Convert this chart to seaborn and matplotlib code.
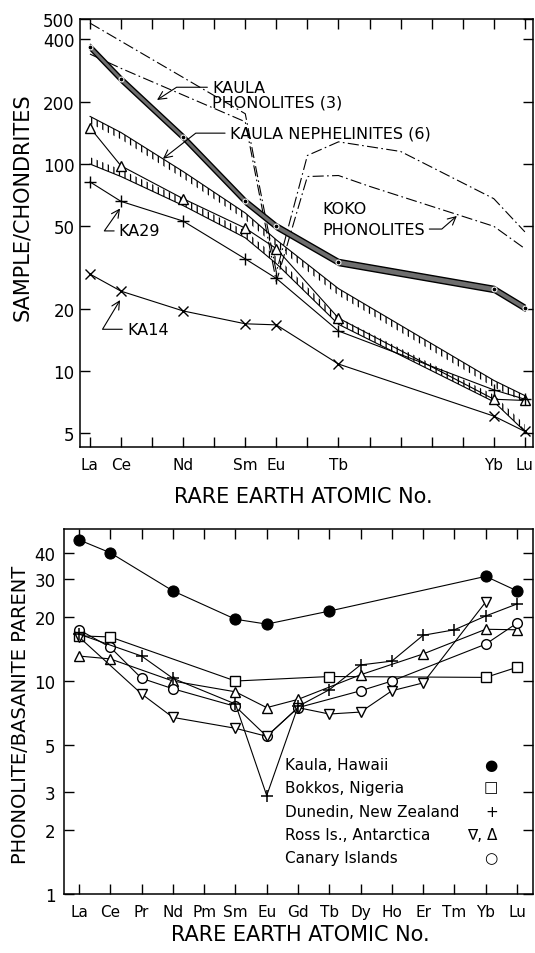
import seaborn as sns
import matplotlib.pyplot as plt
from matplotlib.ticker import FixedLocator, NullLocator, FixedFormatter

sns.set_theme(style="ticks")
plt.rcParams["font.family"] = ["DejaVu Sans"]
plt.rcParams["hatch.linewidth"] = 0.9
plt.rcParams["text.color"] = "black"
plt.rcParams["axes.labelcolor"] = "black"
plt.rcParams["xtick.color"] = "black"
plt.rcParams["ytick.color"] = "black"

# =========================
# TOP PANEL DATA (sample / chondrites)
# =========================
ree_top = ["La", "Ce", "Nd", "Sm", "Eu", "Tb", "Yb", "Lu"]
z_top = [57, 58, 60, 62, 63, 65, 70, 71]

kaula_phon = [368, 257, 135, 66, 50, 33.6, 24.9, 20.2]
neph_upper = [170, 142, 92, 58, 43, 25, 9.0, 7.6]
neph_lower = [100, 87, 63, 44, 33, 16.8, 7.1, 5.1]
ka29 = [82, 66, 53, 34.8, 28, 15.6, 8.1, 7.3]
tri_top = [150, 98, 68, 49, 39, 18, 7.3, 7.2]
ka14 = [29.4, 24.3, 19.5, 16.9, 16.7, 10.8, 6.05, 5.1]

koko_hi_z = [57, 62, 63, 64, 65, 67, 70, 71]
koko_hi = [480, 175, 30, 110, 128, 115, 68, 47]
koko_lo_z = [57, 58, 62, 63, 64, 65, 66, 70, 71]
koko_lo = [340, 290, 160, 27, 87, 88, 78, 50, 39]

top_yticks = [5, 10, 20, 50, 100, 200, 400, 500]

# =========================
# BOTTOM PANEL DATA (phonolite / basanite parent)
# =========================
ree_all = ["La", "Ce", "Pr", "Nd", "Pm", "Sm", "Eu", "Gd",
           "Tb", "Dy", "Ho", "Er", "Tm", "Yb", "Lu"]
z_all = list(range(57, 72))

kaula_z = [57, 58, 60, 62, 63, 65, 70, 71]
kaula = [46, 40, 26.5, 19.5, 18.5, 21.3, 31, 26.5]

bokkos_z = [57, 58, 62, 65, 70, 71]
bokkos = [16.3, 16.1, 10.0, 10.5, 10.4, 11.6]

dunedin_z = [57, 59, 60, 62, 63, 64, 65, 66, 67, 68, 69, 70, 71]
dunedin = [16.6, 13.1, 10.3, 7.8, 2.9, 7.6, 9.1, 11.9, 12.4, 16.4, 17.4, 20.2, 23]

ross_dn_z = [57, 59, 60, 62, 63, 64, 65, 66, 67, 68, 70]
ross_dn = [16.1, 8.7, 6.75, 6.0, 5.5, 7.5, 7.0, 7.15, 9.0, 9.8, 23.5]

ross_up_z = [57, 58, 60, 62, 63, 64, 66, 68, 70, 71]
ross_up = [13.1, 12.7, 10.0, 8.9, 7.5, 8.2, 10.7, 13.4, 17.5, 17.4]

canary_z = [57, 58, 59, 60, 62, 63, 64, 66, 67, 70, 71]
canary = [17.4, 14.4, 10.3, 9.2, 7.6, 5.5, 7.5, 9.0, 10.0, 14.9, 18.7]

bot_yticks = [1, 2, 3, 5, 10, 20, 30, 40]

legend_names = ["Kaula, Hawaii", "Bokkos, Nigeria", "Dunedin, New Zealand",
                "Ross Is., Antarctica", "Canary Islands"]
legend_syms = ["\u25cf", "\u25a1", "+", "\u2207, \u0394", "\u25cb"]

# =========================
# FIGURE
# =========================
fig = plt.figure(figsize=(5.35, 9.54), dpi=100)
fig.patch.set_facecolor("white")
ax1 = fig.add_axes([0.1495, 0.5304, 0.8467, 0.4486])
ax2 = fig.add_axes([0.1196, 0.0618, 0.8766, 0.3826])


def style_axis(ax, yticks, xticks_major, xlabels, xminor):
    ax.set_yscale("log")
    ax.yaxis.set_major_locator(FixedLocator(yticks))
    ax.yaxis.set_major_formatter(FixedFormatter([str(t) for t in yticks]))
    ax.yaxis.set_minor_locator(NullLocator())
    ax.xaxis.set_major_locator(FixedLocator(xticks_major))
    ax.xaxis.set_major_formatter(FixedFormatter(xlabels))
    ax.xaxis.set_minor_locator(FixedLocator(xminor))
    ax.tick_params(which="both", direction="in", top=True, right=True,
                   color="black", width=1.0)
    ax.tick_params(axis="x", which="both", length=7, pad=7, labelsize=11)
    ax.tick_params(axis="y", which="major", length=7, pad=4, labelsize=12)
    for s in ax.spines.values():
        s.set_color("black")
        s.set_linewidth(1.1)
    ax.set_facecolor("white")
    ax.set_xlabel("")
    ax.set_ylabel("")


line_kw = dict(color="black", linewidth=0.8, sort=False, errorbar=None, estimator=None)
open_kw = dict(markersize=7, markerfacecolor="white", markeredgecolor="black",
               markeredgewidth=1.0)

# ---- top panel ----
ax1.set_yscale("log")
ax1.fill_between(z_top, [v / 1.035 for v in kaula_phon], [v * 1.035 for v in kaula_phon],
                 facecolor="#6e6e6e", edgecolor="black", linewidth=1.0, zorder=3)
sns.lineplot(x=z_top, y=kaula_phon, ax=ax1, color="black", linewidth=0, marker="o",
             markersize=3.5, sort=False, errorbar=None, estimator=None, zorder=4)

ax1.fill_between(z_top, [v / 1.08 for v in neph_upper], neph_upper, facecolor="none",
                 edgecolor="black", hatch="|||", linewidth=0)
ax1.fill_between(z_top, neph_lower, [v * 1.08 for v in neph_lower], facecolor="none",
                 edgecolor="black", hatch="|||", linewidth=0)
sns.lineplot(x=z_top, y=neph_upper, ax=ax1, **line_kw)
sns.lineplot(x=z_top, y=neph_lower, ax=ax1, **line_kw)

sns.lineplot(x=z_top, y=tri_top, ax=ax1, marker="^", **open_kw, **line_kw)
sns.lineplot(x=z_top, y=ka29, ax=ax1, marker="+", markersize=8, markeredgewidth=1.0,
             markeredgecolor="black", **line_kw)
sns.lineplot(x=z_top, y=ka14, ax=ax1, marker="x", markersize=7, markeredgewidth=1.0,
             markeredgecolor="black", **line_kw)

sns.lineplot(x=koko_hi_z, y=koko_hi, ax=ax1, color="black", linewidth=0.8,
             dashes=False, sort=False, errorbar=None, estimator=None,
             linestyle=(0, (10, 3, 1.5, 3)))
sns.lineplot(x=koko_lo_z, y=koko_lo, ax=ax1, color="black", linewidth=0.8,
             dashes=False, sort=False, errorbar=None, estimator=None,
             linestyle=(0, (10, 3, 1.5, 3)))

style_axis(ax1, top_yticks, z_top, ree_top, list(range(57, 72)))
ax1.set_xlim(56.68, 71.26)
ax1.set_ylim(4.29, 502)

arrow = dict(arrowstyle="->,head_length=0.5,head_width=0.25", color="black", lw=0.8,
             shrinkA=1, shrinkB=0)
fs = 11.5
ax1.annotate("KAULA", xy=(59.16, 204), xytext=(60.93, 235), fontsize=fs,
             ha="left", va="center",
             arrowprops=dict(arrow, relpos=(0, 0.5),
                             connectionstyle="angle,angleA=0,angleB=33,rad=0"))
ax1.text(60.93, 199, "PHONOLITES (3)", fontsize=fs, ha="left", va="center")
ax1.annotate("KAULA NEPHELINITES (6)", xy=(59.35, 106), xytext=(61.5, 141),
             fontsize=fs, ha="left", va="center",
             arrowprops=dict(arrow, relpos=(0, 0.5),
                             connectionstyle="angle,angleA=0,angleB=38,rad=0"))
ax1.text(64.47, 61.3, "KOKO", fontsize=fs, ha="left", va="center")
ax1.annotate("PHONOLITES", xy=(68.81, 56.1), xytext=(64.47, 48.5), fontsize=fs,
             ha="left", va="center",
             arrowprops=dict(arrow, relpos=(1, 0.5),
                             connectionstyle="angle,angleA=0,angleB=41,rad=0"))
ax1.annotate("KA29", xy=(57.97, 61), xytext=(57.93, 47.5), fontsize=fs,
             ha="left", va="center",
             arrowprops=dict(arrow, relpos=(0, 0.5),
                             connectionstyle="angle,angleA=0,angleB=55,rad=0"))
ax1.annotate("KA14", xy=(57.97, 22.0), xytext=(58.19, 15.9), fontsize=fs,
             ha="left", va="center",
             arrowprops=dict(arrow, relpos=(0, 0.5),
                             connectionstyle="angle,angleA=0,angleB=59,rad=0"))

ax1.text(-0.128, 0.563, "SAMPLE/CHONDRITES", transform=ax1.transAxes, rotation=90,
         ha="center", va="center", fontsize=15)
ax1.text(0.494, -0.114, "RARE EARTH ATOMIC No.", transform=ax1.transAxes,
         ha="center", va="center", fontsize=15)

# ---- bottom panel ----
ax2.set_yscale("log")
sns.lineplot(x=kaula_z, y=kaula, ax=ax2, marker="o", markersize=8,
             markerfacecolor="black", markeredgecolor="black", **line_kw)
sns.lineplot(x=bokkos_z, y=bokkos, ax=ax2, marker="s", **open_kw, **line_kw)
sns.lineplot(x=ross_up_z, y=ross_up, ax=ax2, marker="^", **open_kw, **line_kw)
sns.lineplot(x=canary_z, y=canary, ax=ax2, marker="o", **open_kw, **line_kw)
sns.lineplot(x=ross_dn_z, y=ross_dn, ax=ax2, marker="v", **open_kw, **line_kw)
sns.lineplot(x=dunedin_z, y=dunedin, ax=ax2, marker="+", markersize=9,
             markeredgewidth=1.1, markeredgecolor="black", **line_kw)

style_axis(ax2, bot_yticks, z_all, ree_all, z_all)
ax2.tick_params(axis="y", which="major", labelsize=12, pad=6)
ax2.set_xlim(56.52, 71.51)
ax2.set_ylim(1, 51.7)

leg_y = [0.356, 0.293, 0.227, 0.162, 0.099]
for name, sym, yy in zip(legend_names, legend_syms, leg_y):
    ax2.text(0.471, yy, name, transform=ax2.transAxes, ha="left", va="center",
             fontsize=11)
    ax2.text(0.925, yy, sym, transform=ax2.transAxes, ha="right", va="center",
             fontsize=11)

ax2.text(-0.092, 0.493, "PHONOLITE/BASANITE PARENT", transform=ax2.transAxes,
         rotation=90, ha="center", va="center", fontsize=14)
ax2.text(0.503, -0.11, "RARE EARTH ATOMIC No.", transform=ax2.transAxes,
         ha="center", va="center", fontsize=15)

fig.savefig("out.png", dpi=100)
